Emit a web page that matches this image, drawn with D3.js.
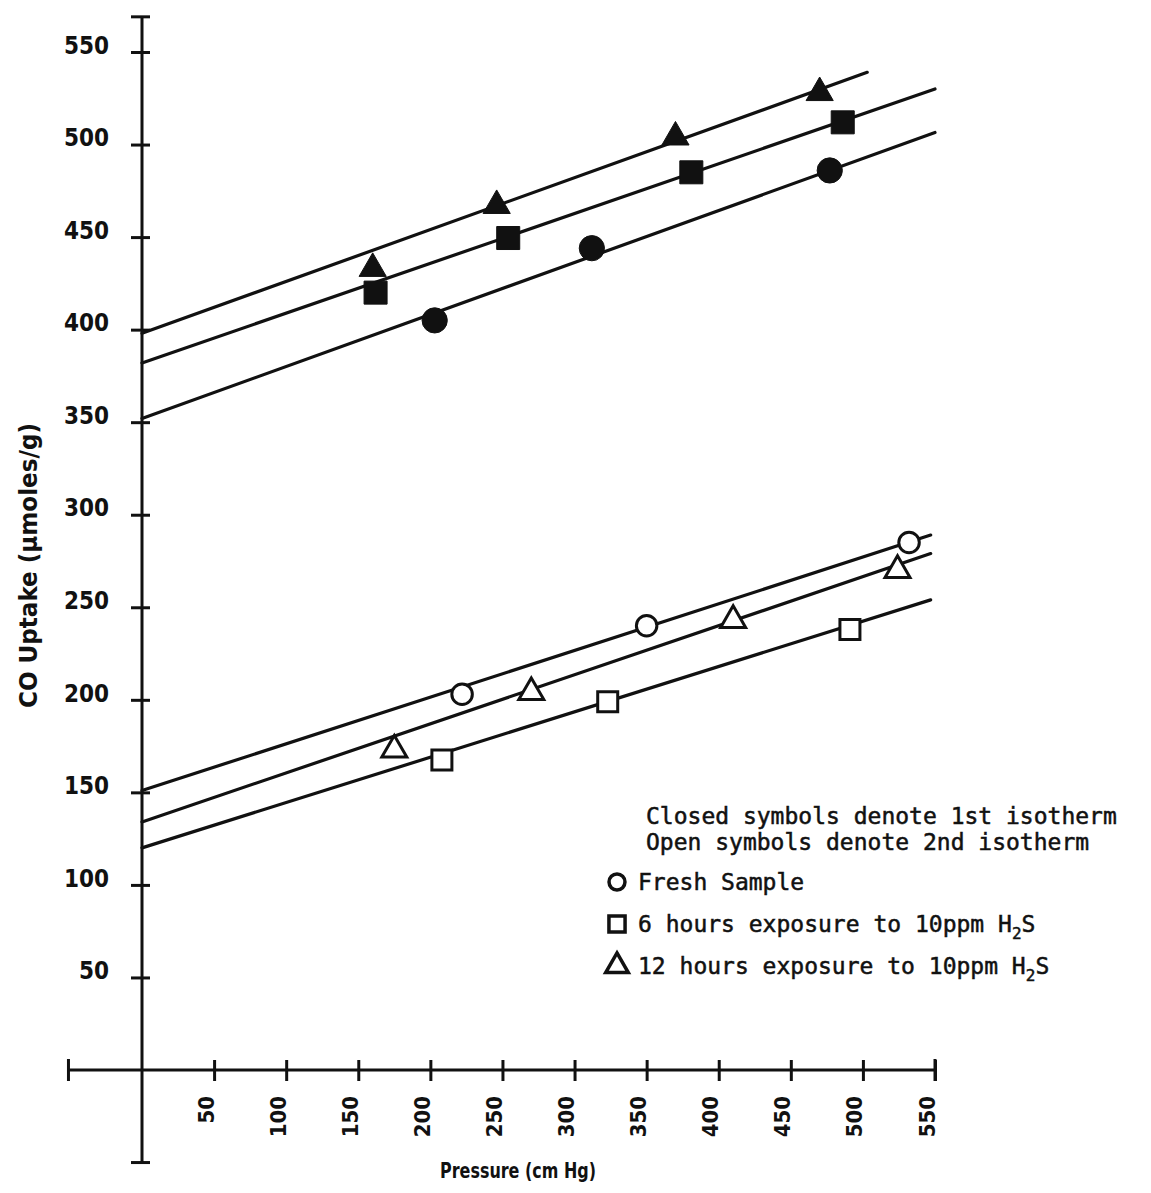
<!DOCTYPE html>
<html>
<head>
<meta charset="utf-8">
<script src="https://cdn.jsdelivr.net/npm/d3@7"></script>
<style>
  html, body { margin: 0; padding: 0; background: #fff; }
  .lab { font-family: "DejaVu Sans Condensed", "DejaVu Sans", sans-serif; font-stretch: condensed; font-weight: bold; fill: #111; }
  .mono { font-family: "DejaVu Sans Mono", "Liberation Mono", monospace; fill: #111; stroke: #111; stroke-width: 0.5px; }
</style>
</head>
<body>
<svg id="chart" width="1151" height="1193"></svg>
<script>
// tick labels
const xTicks = [50, 100, 150, 200, 250, 300, 350, 400, 450, 500, 550];
const yTicks = [50, 100, 150, 200, 250, 300, 350, 400, 450, 500, 550];

// 1st isotherm (closed symbols): [pressure cm Hg, CO uptake umoles/g]
const closedCircle = [[203, 405], [312, 444], [477, 486]];
const closedSquare = [[162, 420], [254, 449.5], [381, 485], [486, 512]];
const closedTriangle = [[160, 433], [246, 467], [370, 504], [470, 528]];

// 2nd isotherm (open symbols)
const openCircle = [[222, 203], [350, 240], [532, 285]];
const openSquare = [[208, 167.5], [323, 199], [491, 238]];
const openTriangle = [[175, 173], [270, 204], [410, 243], [524, 270]];

// straight lines drawn through each set (start / end)
const fitTriangleClosed = [[0, 398], [503, 539]];
const fitSquareClosed = [[0, 382], [550, 530]];
const fitCircleClosed = [[0, 352], [550, 506.5]];
const fitCircleOpen = [[0, 151], [547, 289]];
const fitTriangleOpen = [[0, 134], [547, 279]];
const fitSquareOpen = [[0, 120], [547, 254]];

const legendItems = ['circle', 'square', 'triangle'];

const svg = d3.select('#chart');

const x = d3.scaleLinear().domain([0, 550]).range([142, 935]);
const y = d3.scaleLinear().domain([0, 550]).range([1070, 52]);

const ink = '#111';

// y axis
const yAxis = svg.append('g')
    .attr('transform', `translate(${x(0)},0)`)
    .call(d3.axisLeft(y).tickValues(yTicks).tickSize(0).tickFormat(d3.format('d')));
yAxis.select('.domain').remove();
yAxis.selectAll('.tick line').attr('x1', -11).attr('x2', 8).attr('stroke', ink).attr('stroke-width', 3);
yAxis.selectAll('.tick text')
    .attr('class', 'lab')
    .attr('x', -33)
    .attr('dy', '0.05em')
    .style('font-size', '24px');
yAxis.append('line')
    .attr('y1', y(-50)).attr('y2', y(569))
    .attr('stroke', ink).attr('stroke-width', 3);
yAxis.append('line')
    .attr('x1', -11).attr('x2', 8)
    .attr('y1', y(569)).attr('y2', y(569))
    .attr('stroke', ink).attr('stroke-width', 3);
yAxis.append('line')
    .attr('x1', -11).attr('x2', 8)
    .attr('y1', y(-50)).attr('y2', y(-50))
    .attr('stroke', ink).attr('stroke-width', 3);

// x axis
const xAxis = svg.append('g')
    .attr('transform', `translate(0,${y(0)})`)
    .call(d3.axisBottom(x).tickValues(xTicks).tickSize(0).tickFormat(d3.format('d')));
xAxis.select('.domain').remove();
xAxis.selectAll('.tick line').attr('y1', -10).attr('y2', 11).attr('stroke', ink).attr('stroke-width', 3);
xAxis.selectAll('.tick text')
    .attr('class', 'lab')
    .attr('transform', 'translate(-1,26) rotate(-90)')
    .attr('x', 0).attr('y', 0).attr('dy', 0)
    .attr('text-anchor', 'end')
    .style('font-size', '22px');
xAxis.append('line')
    .attr('x1', x(-51)).attr('x2', x(550))
    .attr('stroke', ink).attr('stroke-width', 3);
xAxis.append('line')
    .attr('x1', x(-51)).attr('x2', x(-51))
    .attr('y1', -11).attr('y2', 11)
    .attr('stroke', ink).attr('stroke-width', 3);
xAxis.append('line')
    .attr('x1', x(550)).attr('x2', x(550))
    .attr('y1', -11).attr('y2', 11)
    .attr('stroke', ink).attr('stroke-width', 3);

// axis titles
svg.append('text')
    .attr('class', 'lab')
    .attr('transform', `translate(37,${(423 + 708) / 2}) rotate(-90)`)
    .attr('text-anchor', 'middle')
    .attr('textLength', 285)
    .attr('lengthAdjust', 'spacingAndGlyphs')
    .style('font-size', '24px')
    .text('CO Uptake (\u03bcmoles/g)');

svg.append('text')
    .attr('class', 'lab')
    .attr('x', 518).attr('y', 1178)
    .attr('text-anchor', 'middle')
    .style('font-size', '22px')
    .attr('textLength', 156)
    .attr('lengthAdjust', 'spacingAndGlyphs')
    .text('Pressure (cm Hg)');

// straight lines
const line = d3.line().x(d => x(d[0])).y(d => y(d[1]));
[fitTriangleClosed, fitSquareClosed, fitCircleClosed, fitCircleOpen, fitTriangleOpen, fitSquareOpen]
    .forEach(seg => {
        svg.append('path')
            .attr('d', line(seg))
            .attr('fill', 'none')
            .attr('stroke', ink)
            .attr('stroke-width', 3.2)
            .attr('stroke-linecap', 'round');
    });

// markers
const shapes = { circle: d3.symbolCircle, square: d3.symbolSquare, triangle: d3.symbolTriangle };

function drawPoints(data, kind, filled) {
    const size = filled
        ? { circle: 500, square: 530, triangle: 320 }[kind]
        : { circle: 330, square: 400, triangle: 270 }[kind];
    svg.append('g').selectAll('path')
        .data(data)
        .join('path')
        .attr('transform', d => `translate(${x(d[0])},${y(d[1])})`)
        .attr('d', d3.symbol().type(shapes[kind]).size(size))
        .attr('fill', filled ? ink : '#fff')
        .attr('stroke', ink)
        .attr('stroke-width', filled ? 1 : 3);
}

drawPoints(closedTriangle, 'triangle', true);
drawPoints(closedSquare, 'square', true);
drawPoints(closedCircle, 'circle', true);
drawPoints(openCircle, 'circle', false);
drawPoints(openSquare, 'square', false);
drawPoints(openTriangle, 'triangle', false);

// legend
const leg = svg.append('g');
leg.append('text').attr('class', 'mono')
    .attr('x', 646).attr('y', 824)
    .style('font-size', '23px')
    .text('Closed symbols denote 1st isotherm');
leg.append('text').attr('class', 'mono')
    .attr('x', 646).attr('y', 850)
    .style('font-size', '23px')
    .text('Open symbols denote 2nd isotherm');

const legLabels = ['Fresh Sample', '6 hours exposure to 10ppm H', '12 hours exposure to 10ppm H'];
const legY = d3.scalePoint().domain(legendItems).range([882, 966]);

legendItems.forEach((k, i) => {
    leg.append('path')
        .attr('transform', `translate(617,${legY(k)})`)
        .attr('d', d3.symbol().type(shapes[k]).size({ circle: 200, square: 260, triangle: 220 }[k]))
        .attr('fill', '#fff')
        .attr('stroke', ink)
        .attr('stroke-width', 3.5);
    const t = leg.append('text').attr('class', 'mono')
        .attr('x', 638).attr('y', legY(k) + 8)
        .style('font-size', '23px');
    t.append('tspan').text(legLabels[i]);
    if (i > 0) {
        t.append('tspan').attr('dy', 7).style('font-size', '16px').text('2');
        t.append('tspan').attr('dy', -7).text('S');
    }
});
</script>
</body>
</html>
